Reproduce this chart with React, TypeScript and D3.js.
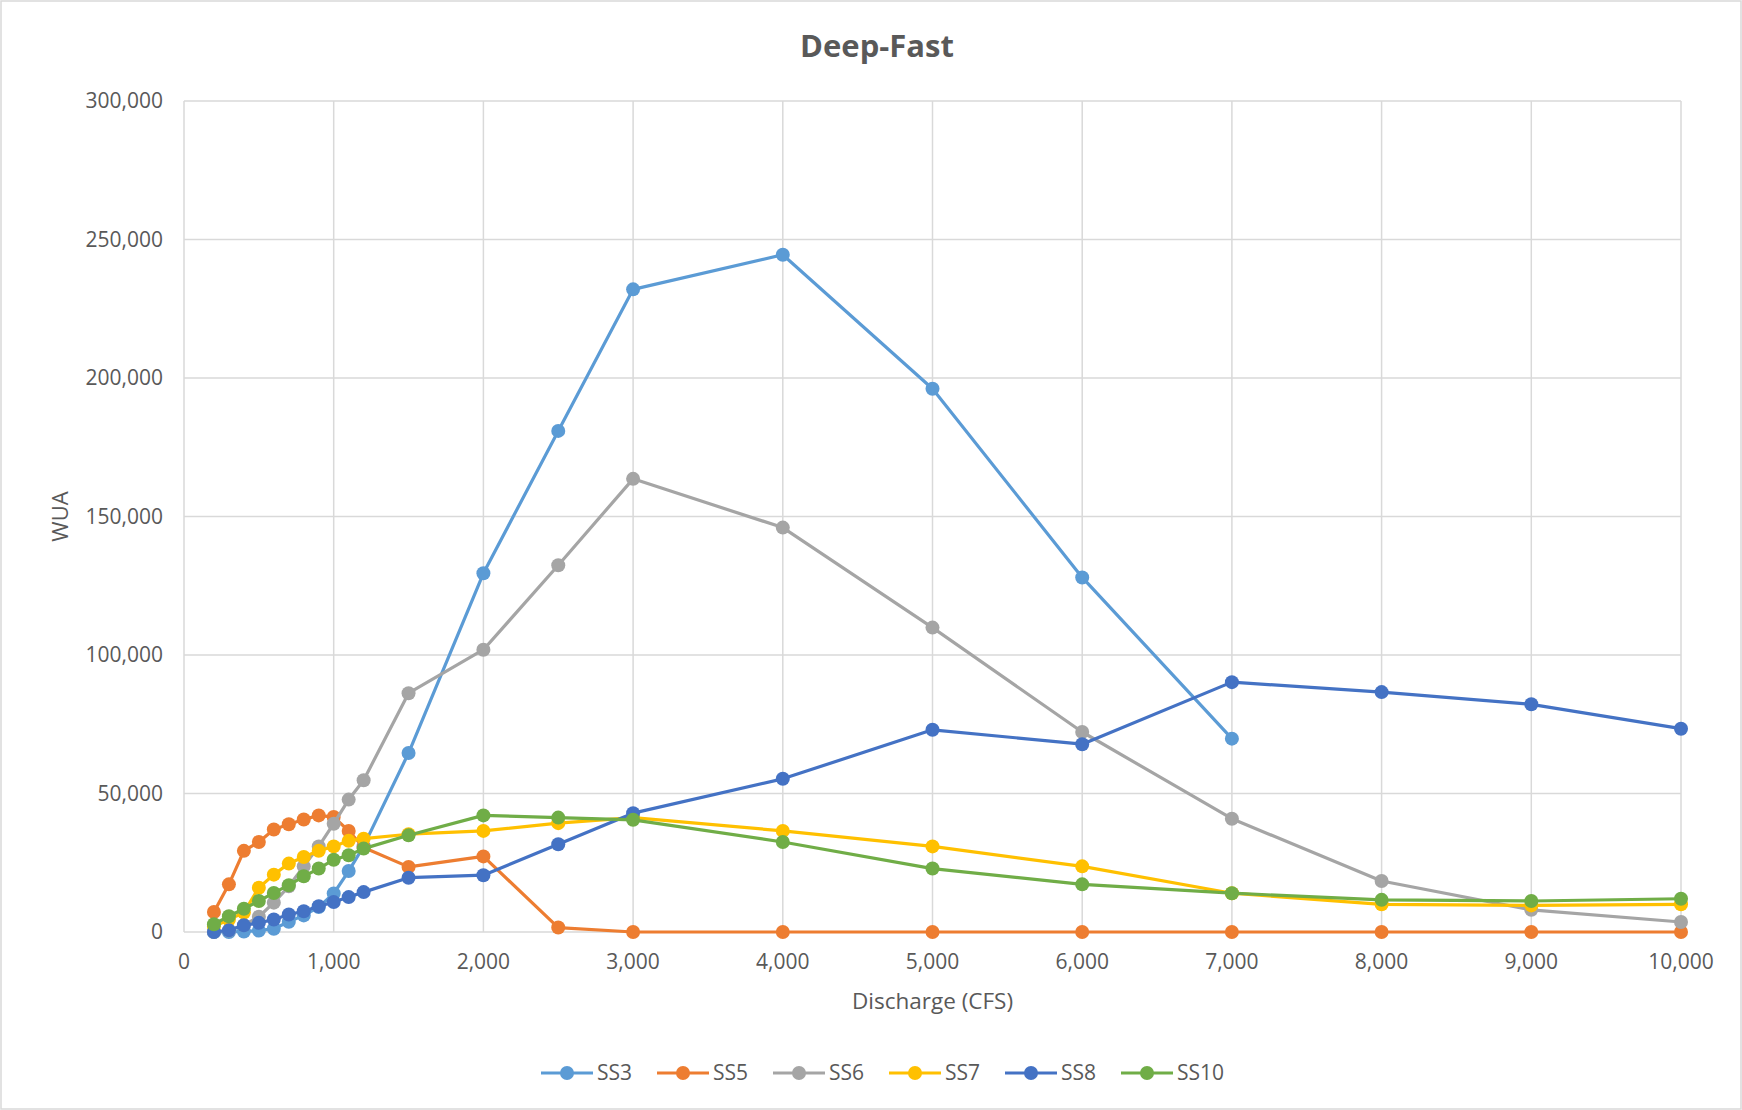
import React from 'react'
import * as d3 from 'd3'

const discharge = [200, 300, 400, 500, 600, 700, 800, 900, 1000, 1100, 1200, 1500, 2000, 2500, 3000, 4000, 5000, 6000, 7000, 8000, 9000, 10000]

const ss3 = [0, 0, 200, 500, 1200, 3700, 6000, 9000, 13900, 22000, 31000, 64600, 129500, 180900, 232000, 244500, 196100, 128000, 69800]
const ss5 = [7200, 17200, 29300, 32500, 37000, 38900, 40600, 42100, 41500, 36500, 30500, 23500, 27300, 1600, 0, 0, 0, 0, 0, 0, 0, 0]
const ss6 = [0, 500, 2500, 5500, 10600, 16500, 23700, 30900, 39100, 47800, 54800, 86200, 101900, 132400, 163600, 146000, 109900, 72200, 40900, 18400, 8000, 3600]
const ss7 = [2000, 4500, 7000, 16000, 20700, 24700, 27100, 29300, 30900, 32900, 33700, 35300, 36500, 39300, 41300, 36500, 30900, 23700, 14000, 10000, 9600, 10000]
const ss8 = [0, 600, 2400, 3300, 4500, 6300, 7500, 9300, 10800, 12600, 14400, 19600, 20500, 31700, 42900, 55300, 73000, 67800, 90200, 86600, 82200, 73400]
const ss10 = [2800, 5700, 8400, 11200, 14100, 16900, 20100, 22900, 26100, 27700, 30100, 34900, 42100, 41300, 40500, 32500, 22900, 17200, 14000, 11600, 11200, 12000]

const seriesNames = ['SS3', 'SS5', 'SS6', 'SS7', 'SS8', 'SS10']
const seriesValues = [ss3, ss5, ss6, ss7, ss8, ss10]
const colors = ['#5b9bd5', '#ed7d31', '#a5a5a5', '#ffc000', '#4472c4', '#70ad47']

const xTicks = d3.range(0, 10001, 1000)
const yTicks = d3.range(0, 300001, 50000)

const W = 1742
const H = 1110
const margin = { top: 101, right: 61, bottom: 178, left: 184 }
const font = "'Open Sans', 'Noto Sans', sans-serif"

export default function App() {
  const x = d3.scaleLinear().domain([0, 10000]).range([margin.left, W - margin.right])
  const y = d3.scaleLinear().domain([0, 300000]).range([H - margin.bottom, margin.top])
  const fmt = d3.format(',')

  const line = d3.line<[number, number]>()
    .x(d => x(d[0]))
    .y(d => y(d[1]))

  const series = seriesNames.map((name, i) => ({
    name,
    color: colors[i],
    points: seriesValues[i].map((v, j) => [discharge[j], v] as [number, number])
  }))

  const legendY = 1073
  const legendStart = 541
  const legendStep = 116

  return (
    <svg width={W} height={H} style={{ position: 'absolute', left: 0, top: 0, background: '#fff' }} fontFamily={font}>
      <rect x={1} y={1} width={W - 2} height={H - 2} fill="#fff" stroke="#d9d9d9" strokeWidth={1.5} />
      <text x={W / 2 + 6} y={57} textAnchor="middle" fontSize={31} fontWeight="bold" fill="#595959">Deep-Fast</text>

      {/* grid */}
      {yTicks.map(t => (
        <line key={'gy' + t} x1={x(0)} x2={x(10000)} y1={y(t)} y2={y(t)} stroke="#d9d9d9" strokeWidth={1.5} />
      ))}
      {xTicks.map(t => (
        <line key={'gx' + t} x1={x(t)} x2={x(t)} y1={y(0)} y2={y(300000)} stroke="#d9d9d9" strokeWidth={1.5} />
      ))}

      {/* axis labels */}
      {yTicks.map(t => (
        <text key={'ly' + t} x={x(0) - 21} y={y(t)} dy="0.35em" textAnchor="end" fontSize={21} fill="#595959">{fmt(t)}</text>
      ))}
      {xTicks.map(t => (
        <text key={'lx' + t} x={x(t)} y={y(0) + 37} textAnchor="middle" fontSize={21} fill="#595959">{fmt(t)}</text>
      ))}
      <text x={(margin.left + W - margin.right) / 2} y={1009} textAnchor="middle" fontSize={22.5} fill="#595959">Discharge (CFS)</text>
      <text transform={`translate(68,${(y(0) + y(300000)) / 2}) rotate(-90)`} textAnchor="middle" fontSize={22} fill="#595959">WUA</text>

      {/* series */}
      {series.map(s => (
        <g key={s.name}>
          <path d={line(s.points) || ''} fill="none" stroke={s.color} strokeWidth={3.2} strokeLinejoin="round" />
          {s.points.map((p, j) => (
            <circle key={j} cx={x(p[0])} cy={y(p[1])} r={7} fill={s.color} />
          ))}
        </g>
      ))}

      {/* legend */}
      {series.map((s, i) => {
        const lx = legendStart + i * legendStep
        return (
          <g key={'lg' + s.name}>
            <line x1={lx} x2={lx + 52} y1={legendY} y2={legendY} stroke={s.color} strokeWidth={3.2} />
            <circle cx={lx + 26} cy={legendY} r={7} fill={s.color} />
            <text x={lx + 56} y={legendY} dy="0.35em" fontSize={21} fill="#595959">{s.name}</text>
          </g>
        )
      })}
    </svg>
  )
}
